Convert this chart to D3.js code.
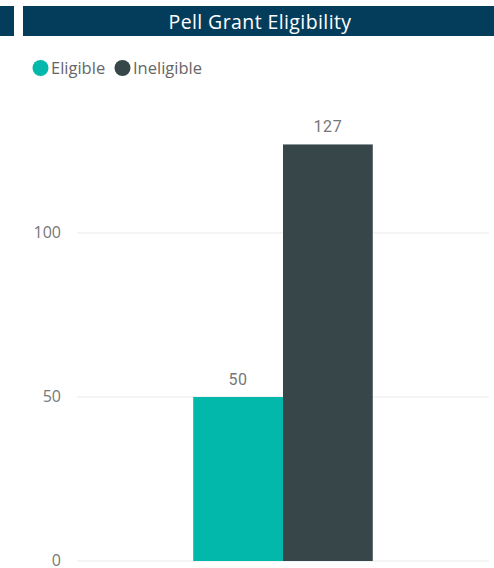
<!DOCTYPE html>
<html><head><meta charset="utf-8">
<script src="https://cdn.jsdelivr.net/npm/d3@7"></script>
<style>body{margin:0;background:#fff;} svg{display:block;}</style>
</head><body>
<svg id="c" width="494" height="568"></svg>
<script>
const title = "Pell Grant Eligibility";
const categories = ["Pell Grant"];
const seriesNames = ["Eligible", "Ineligible"];
const eligibleValues = [50];
const ineligibleValues = [127];
const seriesColors = ["#01B8AA", "#374649"];
const yTicks = [0, 50, 100];

(function () {
const svg = d3.select("#c");
// header bars
svg.append("rect").attr("x", 0).attr("y", 6).attr("width", 14).attr("height", 30).attr("fill", "#043D5B");
svg.append("rect").attr("x", 23).attr("y", 6).attr("width", 471).attr("height", 30).attr("fill", "#043D5B");
svg.append("text").attr("x", 260).attr("y", 29).attr("text-anchor", "middle")
  .attr("font-family", "Open Sans, sans-serif").attr("font-size", 19.5).attr("letter-spacing", 0.4).attr("fill", "#fff").text(title);

// legend
const legX = [40.5, 122.5];
seriesNames.forEach((n, i) => {
  svg.append("circle").attr("cx", legX[i]).attr("cy", 68).attr("r", 8).attr("fill", seriesColors[i]);
  svg.append("text").attr("x", legX[i] + 10.5).attr("y", 73.5)
    .attr("font-family", "Open Sans, sans-serif").attr("font-size", 16.5).attr("fill", "#666").text(n);
});

const pL = 77, pR = 489, pB = 561;
const y = d3.scaleLinear().domain([0, 140.5]).range([pB, pB - 140.5 * 3.28]);
const x0 = d3.scaleBand().domain(categories).range([pL, pR]).paddingInner(0.393).paddingOuter(0.393);
const x1 = d3.scaleBand().domain(seriesNames).range([0, x0.bandwidth()]);

// gridlines
svg.append("g").selectAll("line").data(yTicks).join("line")
  .attr("x1", pL).attr("x2", pR).attr("y1", d => y(d)).attr("y2", d => y(d))
  .attr("stroke", "#e9e9e9").attr("stroke-width", 1);
const yAxis = d3.axisLeft(y).tickValues(yTicks).tickSize(0).tickPadding(0);
const ga = svg.append("g").attr("transform", `translate(61,0)`).call(yAxis);
ga.select(".domain").remove();
ga.selectAll("text").attr("font-family", "Open Sans, sans-serif").attr("font-size", 16).attr("fill", "#777").attr("dy", "0.3em");

const data = categories.map((c, i) => ({cat: c, vals: [eligibleValues[i], ineligibleValues[i]]}));
const g = svg.append("g");
data.forEach(d => {
  d.vals.forEach((v, j) => {
    const xx = x0(d.cat) + x1(seriesNames[j]);
    g.append("rect").attr("x", xx).attr("y", y(v)).attr("width", x1.bandwidth()).attr("height", y(0) - y(v)).attr("fill", seriesColors[j]);
    g.append("text").attr("x", xx + x1.bandwidth() / 2).attr("y", y(v) - 12.5).attr("text-anchor", "middle")
      .attr("font-family", "Roboto, sans-serif").attr("font-size", 16).attr("letter-spacing", 0.6).attr("fill", "#777").text(v);
  });
});
})();
</script>
</body></html>
